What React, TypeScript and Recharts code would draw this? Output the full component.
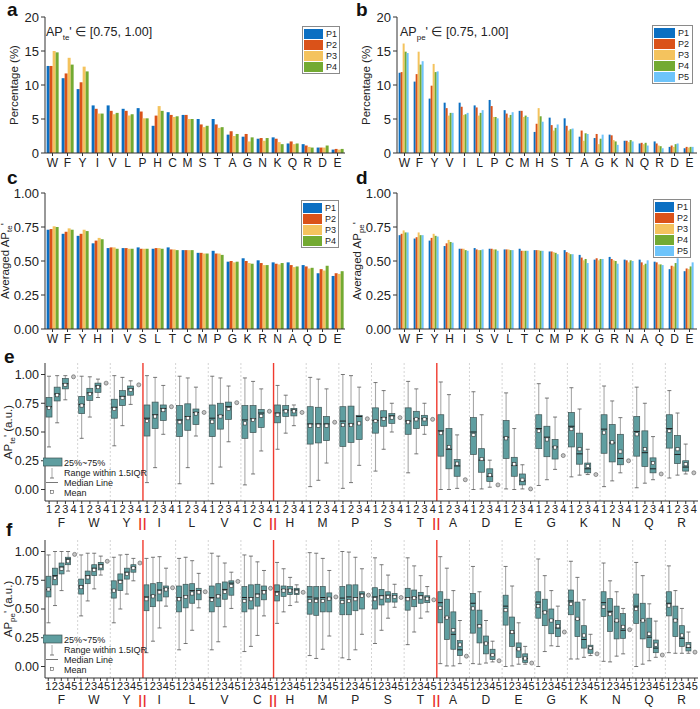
import { BarChart, Bar, ComposedChart, XAxis, YAxis, Legend, ReferenceLine } from "recharts"

const FONT = '"Liberation Sans", Arial, sans-serif'
const C1 = "#0B6FC2"
const C2 = "#DA5219"
const C3 = "#F4C35E"
const C4 = "#73AA32"
const C5 = "#6EC4FA"
const BOX = "#5F9EA0"

// ---- panel a / b : percentage of residues with AP' in [0.75, 1.00]
const aCategories = ["W", "F", "Y", "I", "V", "L", "P", "H", "C", "M", "S", "T", "A", "G", "N", "K", "Q", "R", "D", "E"]
const aP1 = [12.8, 11.0, 9.4, 7.0, 7.0, 6.5, 6.6, 4.0, 6.0, 5.6, 5.0, 5.0, 2.7, 2.4, 2.1, 2.3, 1.4, 1.3, 0.8, 0.5]
const aP2 = [12.8, 11.7, 10.4, 6.5, 6.2, 6.2, 6.1, 5.5, 5.6, 5.6, 4.2, 4.2, 3.2, 2.8, 2.2, 2.1, 1.7, 1.1, 0.8, 0.6]
const aP3 = [15.0, 14.0, 12.7, 5.8, 5.7, 5.5, 5.1, 6.9, 5.3, 5.0, 3.8, 3.7, 2.5, 1.7, 1.8, 1.6, 1.3, 0.9, 0.8, 0.5]
const aP4 = [14.8, 13.0, 12.0, 5.8, 5.9, 5.7, 5.1, 6.2, 5.4, 5.0, 4.0, 3.8, 2.8, 2.3, 2.2, 1.3, 1.4, 0.8, 1.1, 0.6]

const bCategories = ["W", "F", "Y", "V", "I", "L", "P", "C", "M", "H", "S", "T", "A", "G", "K", "N", "Q", "R", "D", "E"]
const bP1 = [11.8, 10.5, 8.0, 7.4, 7.4, 7.0, 7.8, 6.3, 6.2, 3.1, 5.2, 5.1, 2.4, 2.2, 2.7, 1.8, 1.4, 1.7, 0.9, 0.7]
const bP2 = [11.9, 11.6, 9.9, 6.6, 6.8, 6.7, 6.9, 5.8, 6.2, 4.3, 4.1, 4.0, 3.3, 2.8, 2.6, 1.8, 1.5, 1.4, 1.1, 0.9]
const bP3 = [16.1, 14.9, 13.1, 5.5, 5.6, 5.5, 5.3, 5.2, 5.3, 6.6, 3.3, 3.3, 1.8, 1.3, 1.9, 1.6, 1.3, 1.1, 0.9, 0.8]
const bP4 = [14.9, 13.0, 11.9, 5.9, 5.7, 5.9, 5.3, 5.6, 5.5, 5.4, 3.7, 3.5, 2.9, 2.1, 1.7, 1.9, 1.5, 1.0, 1.3, 0.9]
const bP5 = [14.7, 13.5, 12.0, 5.9, 5.9, 6.3, 5.1, 6.0, 5.3, 4.6, 4.2, 3.6, 2.8, 2.7, 1.2, 1.7, 1.1, 0.7, 1.4, 0.9]

// ---- panel c / d : averaged AP'
const cCategories = ["W", "F", "Y", "H", "I", "V", "S", "L", "T", "C", "M", "P", "G", "K", "R", "N", "A", "Q", "D", "E"]
const cP1 = [0.73, 0.7, 0.685, 0.63, 0.595, 0.595, 0.6, 0.59, 0.6, 0.58, 0.56, 0.575, 0.495, 0.52, 0.505, 0.49, 0.49, 0.47, 0.41, 0.39]
const cP2 = [0.735, 0.715, 0.7, 0.65, 0.6, 0.595, 0.59, 0.595, 0.585, 0.58, 0.56, 0.555, 0.5, 0.5, 0.485, 0.48, 0.47, 0.46, 0.44, 0.41]
const cP3 = [0.755, 0.74, 0.73, 0.67, 0.6, 0.59, 0.59, 0.595, 0.585, 0.58, 0.555, 0.555, 0.49, 0.485, 0.47, 0.475, 0.455, 0.445, 0.43, 0.405]
const cP4 = [0.75, 0.73, 0.72, 0.66, 0.59, 0.59, 0.59, 0.59, 0.58, 0.58, 0.555, 0.545, 0.495, 0.48, 0.47, 0.485, 0.46, 0.45, 0.465, 0.425]

const dCategories = ["W", "F", "Y", "H", "I", "S", "V", "L", "T", "C", "M", "P", "K", "G", "R", "N", "A", "Q", "D", "E"]
const dP1 = [0.69, 0.665, 0.65, 0.61, 0.59, 0.595, 0.59, 0.585, 0.59, 0.58, 0.57, 0.58, 0.545, 0.51, 0.53, 0.51, 0.51, 0.495, 0.44, 0.425]
const dP2 = [0.7, 0.675, 0.67, 0.63, 0.59, 0.585, 0.59, 0.585, 0.575, 0.58, 0.57, 0.565, 0.525, 0.52, 0.515, 0.505, 0.49, 0.49, 0.465, 0.445]
const dP3 = [0.725, 0.71, 0.7, 0.655, 0.59, 0.58, 0.585, 0.585, 0.575, 0.58, 0.565, 0.56, 0.505, 0.505, 0.505, 0.49, 0.47, 0.475, 0.46, 0.44]
const dP4 = [0.71, 0.69, 0.685, 0.64, 0.58, 0.58, 0.585, 0.58, 0.575, 0.575, 0.56, 0.55, 0.515, 0.515, 0.5, 0.505, 0.48, 0.475, 0.485, 0.46]
const dP5 = [0.71, 0.69, 0.68, 0.635, 0.575, 0.585, 0.575, 0.58, 0.575, 0.575, 0.55, 0.55, 0.485, 0.515, 0.48, 0.5, 0.505, 0.47, 0.52, 0.49]

// ---- panel e / f : box plots per residue, positions 1..n (last one is a single value)
const boxGroups = ["F", "W", "Y", "I", "L", "V", "C", "H", "M", "P", "S", "T", "A", "D", "E", "G", "K", "N", "Q", "R"]
const redBefore = ["I", "H", "A"]

const teLow = [[0.37, 0.58, 0.78], [0.445, 0.63, 0.8], [0.38, 0.555, 0.74], [0.06, 0.19, 0.48], [0.05, 0.19, 0.465], [0.05, 0.195, 0.415], [0.04, 0.135, 0.335], [0.35, 0.49, 0.555], [0.025, 0.08, 0.23], [0.01, 0.06, 0.21], [0.16, 0.35, 0.5], [0.145, 0.31, 0.48], [0.0, 0.0, 0.01], [0.0, 0.005, 0.02], [0.005, 0.0, 0.005], [0.035, 0.085, 0.175], [0.11, 0.125, 0.13], [0.025, 0.075, 0.145], [0.015, 0.055, 0.085], [0.1, 0.125, 0.135]]
const teQ1 = [[0.63, 0.77, 0.875], [0.66, 0.775, 0.845], [0.62, 0.73, 0.82], [0.465, 0.53, 0.6], [0.46, 0.515, 0.565], [0.46, 0.525, 0.61], [0.445, 0.495, 0.54], [0.58, 0.635, 0.64], [0.395, 0.405, 0.425], [0.375, 0.41, 0.435], [0.49, 0.55, 0.575], [0.48, 0.53, 0.555], [0.29, 0.18, 0.115], [0.305, 0.15, 0.07], [0.27, 0.115, 0.04], [0.355, 0.285, 0.265], [0.37, 0.22, 0.145], [0.315, 0.24, 0.215], [0.29, 0.2, 0.145], [0.36, 0.225, 0.16]]
const teMedian = [[0.72, 0.83, 0.92], [0.74, 0.84, 0.9], [0.715, 0.81, 0.875], [0.62, 0.65, 0.705], [0.605, 0.635, 0.67], [0.62, 0.645, 0.72], [0.605, 0.615, 0.665], [0.665, 0.69, 0.69], [0.57, 0.57, 0.57], [0.595, 0.57, 0.635], [0.6, 0.625, 0.64], [0.595, 0.615, 0.615], [0.51, 0.35, 0.205], [0.5, 0.255, 0.115], [0.455, 0.21, 0.075], [0.53, 0.455, 0.37], [0.55, 0.31, 0.18], [0.525, 0.405, 0.27], [0.505, 0.32, 0.18], [0.53, 0.305, 0.195]]
const teQ3 = [[0.8, 0.89, 0.965], [0.81, 0.88, 0.925], [0.785, 0.86, 0.9], [0.735, 0.76, 0.735], [0.73, 0.745, 0.7], [0.735, 0.75, 0.76], [0.73, 0.73, 0.695], [0.735, 0.73, 0.705], [0.72, 0.715, 0.635], [0.72, 0.725, 0.645], [0.71, 0.685, 0.66], [0.71, 0.68, 0.645], [0.65, 0.53, 0.26], [0.625, 0.355, 0.18], [0.6, 0.28, 0.135], [0.65, 0.55, 0.435], [0.67, 0.49, 0.23], [0.65, 0.565, 0.48], [0.635, 0.51, 0.275], [0.65, 0.47, 0.25]]
const teHigh = [[0.985, 0.99, 0.99], [0.985, 0.98, 0.96], [0.99, 0.975, 0.945], [0.99, 0.975, 0.905], [0.985, 0.97, 0.89], [0.985, 0.97, 0.9], [0.97, 0.94, 0.875], [0.905, 0.82, 0.735], [0.975, 0.96, 0.875], [1.0, 0.99, 0.89], [0.93, 0.86, 0.75], [0.94, 0.875, 0.75], [0.935, 0.825, 0.475], [0.85, 0.65, 0.255], [0.84, 0.53, 0.215], [0.92, 0.795, 0.63], [0.885, 0.7, 0.35], [0.9, 0.77, 0.625], [0.89, 0.75, 0.46], [0.86, 0.665, 0.395]]
const teMean = [[0.71, 0.82, 0.91], [0.73, 0.83, 0.89], [0.7, 0.795, 0.865], [0.595, 0.635, 0.69], [0.585, 0.62, 0.66], [0.59, 0.635, 0.7], [0.575, 0.605, 0.64], [0.65, 0.68, 0.68], [0.555, 0.555, 0.555], [0.56, 0.56, 0.575], [0.595, 0.615, 0.625], [0.585, 0.61, 0.61], [0.49, 0.37, 0.225], [0.475, 0.265, 0.125], [0.445, 0.22, 0.085], [0.51, 0.435, 0.365], [0.525, 0.35, 0.205], [0.495, 0.41, 0.33], [0.48, 0.35, 0.23], [0.51, 0.35, 0.22]]
const tePoint = [0.98, 0.925, 0.91, 0.72, 0.67, 0.755, 0.68, 0.67, 0.585, 0.615, 0.625, 0.61, 0.085, 0.04, 0.005, 0.295, 0.13, 0.25, 0.135, 0.145]

const peLow = [[0.38, 0.53, 0.66, 0.83], [0.44, 0.57, 0.675, 0.795], [0.38, 0.5, 0.63, 0.745], [0.12, 0.22, 0.335, 0.525], [0.145, 0.2, 0.315, 0.51], [0.145, 0.215, 0.345, 0.505], [0.13, 0.175, 0.27, 0.44], [0.375, 0.475, 0.53, 0.56], [0.095, 0.07, 0.15, 0.265], [0.075, 0.06, 0.145, 0.28], [0.2, 0.315, 0.42, 0.515], [0.19, 0.3, 0.42, 0.475], [0.025, 0.005, 0.005, 0.025], [0.025, 0.02, 0.03, 0.04], [0.0, 0.005, 0.02, 0.02], [0.0, 0.13, 0.18, 0.175], [0.065, 0.065, 0.08, 0.095], [0.045, 0.04, 0.09, 0.11], [0.0, 0.02, 0.05, 0.08], [0.12, 0.115, 0.115, 0.115]]
const peQ1 = [[0.605, 0.71, 0.805, 0.885], [0.63, 0.72, 0.79, 0.84], [0.595, 0.66, 0.76, 0.82], [0.485, 0.52, 0.57, 0.605], [0.475, 0.51, 0.55, 0.58], [0.475, 0.52, 0.585, 0.62], [0.475, 0.5, 0.525, 0.58], [0.57, 0.61, 0.625, 0.625], [0.455, 0.445, 0.475, 0.475], [0.45, 0.45, 0.485, 0.5], [0.5, 0.535, 0.56, 0.56], [0.49, 0.52, 0.55, 0.555], [0.38, 0.235, 0.15, 0.095], [0.29, 0.205, 0.11, 0.06], [0.36, 0.175, 0.08, 0.035], [0.42, 0.355, 0.285, 0.26], [0.45, 0.26, 0.16, 0.115], [0.435, 0.305, 0.24, 0.245], [0.375, 0.24, 0.165, 0.12], [0.44, 0.26, 0.175, 0.135]]
const peMedian = [[0.67, 0.79, 0.865, 0.935], [0.7, 0.79, 0.855, 0.885], [0.665, 0.75, 0.82, 0.86], [0.605, 0.62, 0.665, 0.68], [0.6, 0.615, 0.66, 0.66], [0.6, 0.62, 0.67, 0.725], [0.6, 0.6, 0.63, 0.66], [0.65, 0.67, 0.67, 0.665], [0.605, 0.595, 0.6, 0.595], [0.595, 0.605, 0.6, 0.63], [0.605, 0.615, 0.62, 0.615], [0.6, 0.6, 0.615, 0.6], [0.555, 0.425, 0.28, 0.145], [0.55, 0.36, 0.205, 0.1], [0.525, 0.29, 0.15, 0.07], [0.56, 0.48, 0.405, 0.335], [0.57, 0.41, 0.235, 0.155], [0.555, 0.48, 0.39, 0.315], [0.525, 0.4, 0.255, 0.16], [0.55, 0.41, 0.245, 0.165]]
const peQ3 = [[0.785, 0.855, 0.9, 0.95], [0.76, 0.83, 0.885, 0.905], [0.745, 0.805, 0.855, 0.885], [0.71, 0.72, 0.73, 0.7], [0.7, 0.715, 0.72, 0.68], [0.7, 0.72, 0.735, 0.745], [0.695, 0.71, 0.715, 0.7], [0.71, 0.7, 0.695, 0.68], [0.695, 0.695, 0.695, 0.64], [0.695, 0.71, 0.71, 0.65], [0.685, 0.67, 0.65, 0.635], [0.68, 0.665, 0.645, 0.615], [0.65, 0.585, 0.475, 0.225], [0.635, 0.49, 0.265, 0.15], [0.62, 0.43, 0.205, 0.11], [0.65, 0.585, 0.5, 0.4], [0.665, 0.56, 0.355, 0.185], [0.65, 0.59, 0.525, 0.46], [0.63, 0.55, 0.42, 0.23], [0.65, 0.525, 0.355, 0.21]]
const peHigh = [[0.97, 1.0, 1.0, 1.0], [0.97, 0.985, 0.985, 0.96], [0.95, 0.97, 0.975, 0.94], [0.94, 0.95, 0.955, 0.855], [0.94, 0.95, 0.92, 0.81], [0.985, 0.96, 0.9, 0.82], [0.97, 0.96, 0.91, 0.835], [0.905, 0.85, 0.775, 0.71], [0.99, 0.985, 0.94, 0.835], [1.0, 0.995, 0.95, 0.85], [0.945, 0.885, 0.795, 0.715], [0.945, 0.875, 0.79, 0.695], [0.955, 0.855, 0.66, 0.4], [0.87, 0.65, 0.4, 0.22], [0.87, 0.7, 0.38, 0.175], [0.935, 0.79, 0.66, 0.525], [0.915, 0.775, 0.58, 0.28], [0.9, 0.745, 0.65, 0.505], [0.905, 0.79, 0.545, 0.395], [0.875, 0.66, 0.505, 0.3]]
const peMean = [[0.67, 0.77, 0.85, 0.915], [0.69, 0.775, 0.84, 0.87], [0.66, 0.735, 0.805, 0.855], [0.585, 0.61, 0.645, 0.67], [0.585, 0.605, 0.635, 0.645], [0.58, 0.61, 0.65, 0.7], [0.57, 0.585, 0.615, 0.645], [0.63, 0.66, 0.66, 0.65], [0.57, 0.57, 0.57, 0.59], [0.56, 0.57, 0.585, 0.615], [0.585, 0.6, 0.605, 0.605], [0.585, 0.595, 0.6, 0.59], [0.51, 0.425, 0.315, 0.19], [0.505, 0.35, 0.2, 0.1], [0.49, 0.3, 0.15, 0.07], [0.525, 0.47, 0.4, 0.35], [0.545, 0.415, 0.27, 0.16], [0.52, 0.455, 0.4, 0.345], [0.5, 0.4, 0.285, 0.19], [0.53, 0.4, 0.27, 0.18]]
const pePoint = [0.975, 0.915, 0.9, 0.685, 0.65, 0.74, 0.68, 0.645, 0.605, 0.62, 0.6, 0.58, 0.09, 0.05, 0.03, 0.3, 0.11, 0.32, 0.1, 0.125]

const apTicks = [0, 0.25, 0.5, 0.75, 1]
const pctTicks = [0, 5, 10, 15, 20]

type Row = Record<string, any>

function barRows(cats: string[], series: number[][]): Row[] {
  return cats.map((c, i) => {
    const r: Row = { name: c }
    series.forEach((s, k) => (r["P" + (k + 1)] = s[i]))
    return r
  })
}

function boxRows(low: number[][], q1: number[][], med: number[][], q3: number[][], high: number[][], mean: number[][], pt: number[]): Row[] {
  const rows: Row[] = []
  boxGroups.forEach((g, gi) => {
    low[gi].forEach((_, p) => {
      rows.push({ id: g + (p + 1), range: [low[gi][p], high[gi][p]], q1: q1[gi][p], median: med[gi][p], q3: q3[gi][p], mean: mean[gi][p] })
    })
    rows.push({ id: g + (low[gi].length + 1), range: [pt[gi], pt[gi]], pt: pt[gi] })
  })
  return rows
}

function yTitle(cx: number, main: string, sub?: string, tail?: string) {
  return (props: any) => {
    const vb = props.viewBox
    const cy = vb.y + vb.height / 2
    return (
      <text transform={`rotate(-90 ${cx} ${cy})`} x={cx} y={cy} textAnchor="middle" fontSize={11.5} fill="#222" fontFamily={FONT}>
        {main}
        {sub && <tspan fontSize={8} dy={3}>{sub}</tspan>}
        {tail && <tspan dy={sub ? -3 : 0}>{tail}</tspan>}
      </text>
    )
  }
}

function BarLegend({ payload }: any) {
  return (
    <div style={{ border: "1px solid #8a8a8a", background: "#fff", padding: "1px 2px 1px 1px", fontFamily: FONT }}>
      {(payload || []).map((e: any) => (
        <div key={e.value} style={{ display: "flex", alignItems: "center", height: 11 }}>
          <span style={{ display: "inline-block", width: 21, height: 10, background: e.color, marginRight: 3 }} />
          <span style={{ fontSize: 9, color: "#222" }}>{e.value}</span>
        </div>
      ))}
    </div>
  )
}

function BarPanel({ cats, series, colors, ticks, domain, fmt, title, legendPos, yWidth, right }: any) {
  const data = barRows(cats, series)
  return (
    <BarChart width={350} height={180} data={data} margin={{ top: 23, right, bottom: 0, left: 0 }} barCategoryGap="11%" barGap={0}>
      <XAxis dataKey="name" interval={0} height={21} tickSize={3} tick={{ fontSize: 12, fill: "#222", fontFamily: FONT }} stroke="#333" />
      <XAxis xAxisId="top" orientation="top" dataKey="name" height={0} tick={false} tickLine={false} stroke="#333" />
      <YAxis domain={domain} ticks={ticks} width={yWidth} tickSize={4} tickFormatter={fmt} tick={{ fontSize: 13, fill: "#222", fontFamily: FONT }} stroke="#333" label={title} allowDataOverflow />
      <YAxis yAxisId="right" orientation="right" width={0} tick={false} tickLine={false} stroke="#333" />
      <Legend layout="vertical" align="center" verticalAlign="middle" wrapperStyle={{ left: legendPos[0], top: legendPos[1], width: legendPos[2], right: "auto", bottom: "auto" }} content={(p: any) => <BarLegend payload={p.payload} />} />
      {series.map((_: number[], k: number) => (
        <Bar key={k} dataKey={"P" + (k + 1)} name={"P" + (k + 1)} fill={colors[k]} isAnimationActive={false} />
      ))}
    </BarChart>
  )
}

function BoxShape(props: any) {
  const { x, y, width, height, payload } = props
  if (!payload || x == null || y == null) return null
  const cx = x + width / 2
  if (payload.pt != null) {
    return <circle cx={cx} cy={y} r={2} fill="#c4c4c4" stroke="#6a6a6a" strokeWidth={0.7} />
  }
  const [lo, hi] = payload.range
  const span = hi - lo
  const toY = (v: number) => (span === 0 ? y : y + (height * (hi - v)) / span)
  const yq3 = toY(payload.q3)
  const yq1 = toY(payload.q1)
  const ym = toY(payload.median)
  const yMean = toY(payload.mean)
  return (
    <g>
      <line x1={cx} x2={cx} y1={y} y2={y + height} stroke="#a8a8a8" strokeWidth={1.1} />
      <line x1={cx - 2} x2={cx + 2} y1={y} y2={y} stroke="#555" strokeWidth={0.8} />
      <line x1={cx - 2} x2={cx + 2} y1={y + height} y2={y + height} stroke="#555" strokeWidth={0.8} />
      <rect x={x} y={yq3} width={width} height={Math.max(yq1 - yq3, 0.5)} fill={BOX} stroke="#3e5252" strokeWidth={0.7} />
      <line x1={x} x2={x + width} y1={ym} y2={ym} stroke="#1e1e1e" strokeWidth={1} />
      <rect x={cx - 1.6} y={yMean - 1.6} width={3.2} height={3.2} fill="#fff" stroke="#333" strokeWidth={0.6} />
    </g>
  )
}

function BoxLegend() {
  return (
    <svg width={112} height={42} style={{ fontFamily: FONT }}>
      <rect x={0} y={2} width={19} height={8} fill={BOX} stroke="#3e5252" strokeWidth={0.7} />
      <text x={21} y={9.5} fontSize={9} fill="#222">25%~75%</text>
      <line x1={9} x2={9} y1={12} y2={22} stroke="#a8a8a8" strokeWidth={1} />
      <line x1={7} x2={11} y1={22} y2={22} stroke="#555" strokeWidth={0.8} />
      <text x={21} y={19.8} fontSize={9} fill="#222">Range within 1.5IQR</text>
      <line x1={3} x2={15} y1={26.5} y2={26.5} stroke="#777" strokeWidth={1} />
      <text x={21} y={30} fontSize={9} fill="#222">Median Line</text>
      <rect x={7.5} y={34.5} width={3} height={3} fill="#fff" stroke="#555" strokeWidth={0.6} />
      <text x={21} y={40} fontSize={9} fill="#222">Mean</text>
    </svg>
  )
}

const PLOT_W = 653

function BoxPanel({ rows, nPos, title, height, top, legendTop, barSize }: any) {
  const band = PLOT_W / rows.length
  const mid = (nPos + 1) / 2
  const tick = (props: any) => {
    const { x, y, payload } = props
    const id: string = payload.value
    const g = id.slice(0, 1)
    const pos = Number(id.slice(1))
    return (
      <g fontFamily={FONT}>
        <text x={x} y={y + 7} textAnchor="middle" fontSize={11} fill="#222">{pos}</text>
        {pos === Math.floor(mid) && (
          <text x={x + (mid - pos) * band} y={y + 21} textAnchor="middle" fontSize={12} fill="#222">{g}</text>
        )}
        {pos === 1 && redBefore.includes(g) && (
          <text x={x - band / 2} y={y + 21} textAnchor="middle" fontSize={12} fontWeight="bold" fill="#E8302A" letterSpacing={1}>||</text>
        )}
      </g>
    )
  }
  const isRed = (g: string) => redBefore.includes(boxGroups[boxGroups.indexOf(g) + 1])
  return (
    <ComposedChart width={700} height={height} data={rows} margin={{ top, right: 2, bottom: 0, left: 0 }} barGap={0}>
      <XAxis dataKey="id" interval={0} height={height - top - 138} tickSize={3} tick={tick} stroke="#333" />
      <XAxis xAxisId="top" orientation="top" dataKey="id" height={0} tick={false} tickLine={false} stroke="#333" />
      <YAxis domain={[-0.1, 1.1]} ticks={apTicks} width={45} tickSize={4} tickFormatter={(v: number) => v.toFixed(2)} tick={{ fontSize: 12.5, fill: "#222", fontFamily: FONT }} stroke="#333" label={title} allowDataOverflow />
      <YAxis yAxisId="right" orientation="right" width={0} tick={false} tickLine={false} stroke="#333" />
      {boxGroups.slice(0, -1).map((g) => (
        <ReferenceLine
          key={g}
          x={g + nPos}
          position="end"
          stroke={isRed(g) ? "#F03A2E" : "#c9c9c9"}
          strokeWidth={isRed(g) ? 1.4 : 0.8}
          strokeDasharray={isRed(g) ? undefined : "2 2"}
        />
      ))}
      <Legend layout="vertical" align="center" verticalAlign="middle" wrapperStyle={{ left: 43, top: legendTop, width: 112, right: "auto", bottom: "auto" }} content={() => <BoxLegend />} />
      <Bar dataKey="range" barSize={barSize} shape={BoxShape} isAnimationActive={false} legendType="none" />
    </ComposedChart>
  )
}

const letterStyle: any = { position: "absolute", fontSize: 19, fontWeight: "bold", fontFamily: FONT, lineHeight: 1, color: "#111" }
const noteStyle: any = { position: "absolute", fontSize: 12.5, fontFamily: FONT, color: "#222", lineHeight: 1 }

export default function App() {
  const teRows = boxRows(teLow, teQ1, teMedian, teQ3, teHigh, teMean, tePoint)
  const peRows = boxRows(peLow, peQ1, peMedian, peQ3, peHigh, peMean, pePoint)
  return (
    <div style={{ position: "relative", width: 700, height: 709, background: "#fff", overflow: "hidden" }}>
      <style>{`body{margin:0}`}</style>

      <div style={{ position: "absolute", left: 0, top: -6 }}>
        <BarPanel cats={aCategories} series={[aP1, aP2, aP3, aP4]} colors={[C1, C2, C3, C4]} ticks={pctTicks} domain={[0, 20]} fmt={(v: number) => String(v)} title={yTitle(18, "Percentage (%)")} legendPos={[302, 32, 38]} yWidth={45} right={5} />
      </div>
      <div style={{ position: "absolute", left: 350, top: -6 }}>
        <BarPanel cats={bCategories} series={[bP1, bP2, bP3, bP4, bP5]} colors={[C1, C2, C3, C4, C5]} ticks={pctTicks} domain={[0, 20]} fmt={(v: number) => String(v)} title={yTitle(20, "Percentage (%)")} legendPos={[302, 31, 41]} yWidth={47} right={3} />
      </div>
      <div style={{ position: "absolute", left: 0, top: 170 }}>
        <BarPanel cats={cCategories} series={[cP1, cP2, cP3, cP4]} colors={[C1, C2, C3, C4]} ticks={apTicks} domain={[0, 1]} fmt={(v: number) => v.toFixed(2)} title={yTitle(9, "Averaged AP", "te", "'")} legendPos={[301, 30, 38]} yWidth={45} right={5} />
      </div>
      <div style={{ position: "absolute", left: 350, top: 170 }}>
        <BarPanel cats={dCategories} series={[dP1, dP2, dP3, dP4, dP5]} colors={[C1, C2, C3, C4, C5]} ticks={apTicks} domain={[0, 1]} fmt={(v: number) => v.toFixed(2)} title={yTitle(11, "Averaged AP", "pe", "'")} legendPos={[303, 29, 38]} yWidth={47} right={3} />
      </div>
      <div style={{ position: "absolute", left: 0, top: 345 }}>
        <BoxPanel rows={teRows} nPos={4} title={yTitle(12, "AP", "te", "' (a.u.)")} height={185} top={18} legendTop={111} barSize={6} />
      </div>
      <div style={{ position: "absolute", left: 0, top: 522 }}>
        <BoxPanel rows={peRows} nPos={5} title={yTitle(12, "AP", "pe", "' (a.u.)")} height={187} top={18} legendTop={111} barSize={5} />
      </div>

      <div style={{ ...letterStyle, left: 7, top: 0 }}>a</div>
      <div style={{ ...letterStyle, left: 356, top: 0 }}>b</div>
      <div style={{ ...letterStyle, left: 7, top: 168 }}>c</div>
      <div style={{ ...letterStyle, left: 356, top: 168 }}>d</div>
      <div style={{ ...letterStyle, left: 4, top: 347 }}>e</div>
      <div style={{ ...letterStyle, left: 6, top: 520 }}>f</div>

      <div style={{ ...noteStyle, left: 46, top: 26 }}>
        AP<sub style={{ fontSize: 8 }}>te</sub>' ∈ [0.75, 1.00]
      </div>
      <div style={{ ...noteStyle, left: 400, top: 26 }}>
        AP<sub style={{ fontSize: 8 }}>pe</sub>' ∈ [0.75, 1.00]
      </div>
    </div>
  )
}
